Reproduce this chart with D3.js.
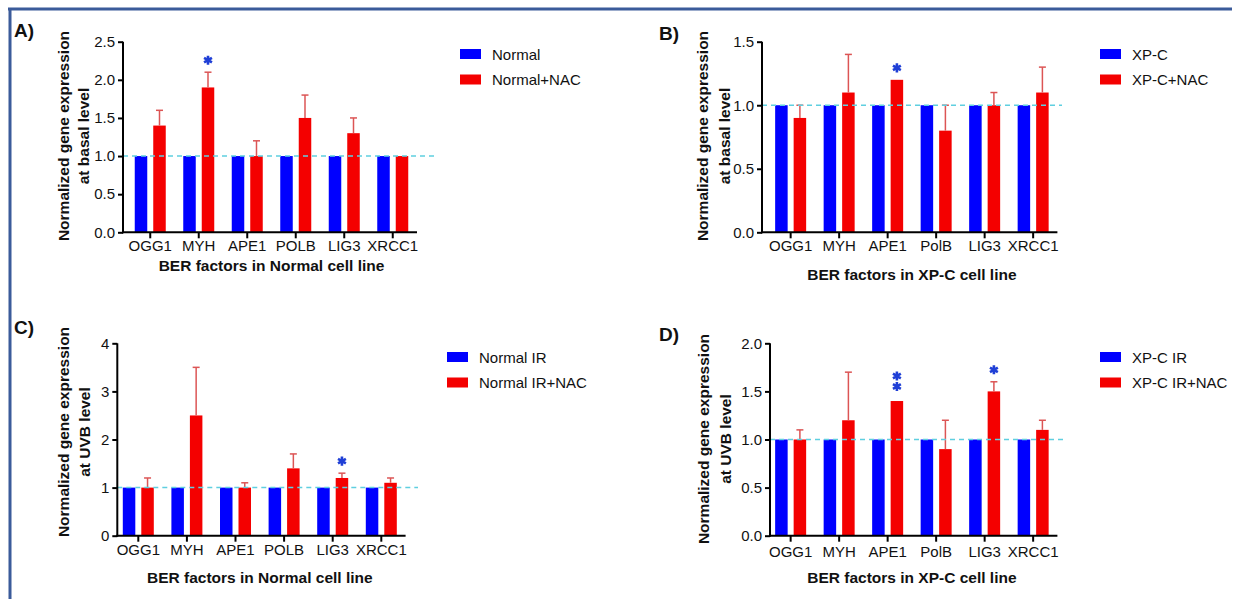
<!DOCTYPE html>
<html>
<head>
<meta charset="utf-8">
<script src="https://cdn.jsdelivr.net/npm/d3@7"></script>
<style>
  html, body { margin: 0; padding: 0; background: #fff; }
  svg { display: block; font-family: "Liberation Sans", Arial, sans-serif; }
</style>
</head>
<body>
<svg id="fig" width="1234" height="599"></svg>
<script>
// gene names on the x axes
const genesNormal = ["OGG1", "MYH", "APE1", "POLB", "LIG3", "XRCC1"];
const genesXPC    = ["OGG1", "MYH", "APE1", "PolB", "LIG3", "XRCC1"];

// A) basal level, Normal cell line
const normalBasal       = [1, 1, 1, 1, 1, 1];
const normalNacBasal    = [1.4, 1.9, 1.0, 1.5, 1.3, 1.0];
const normalNacBasalErr = [0.2, 0.2, 0.2, 0.3, 0.2, 0];
const starsA            = [0, 1, 0, 0, 0, 0];

// B) basal level, XP-C cell line
const xpcBasal       = [1, 1, 1, 1, 1, 1];
const xpcNacBasal    = [0.9, 1.1, 1.2, 0.8, 1.0, 1.1];
const xpcNacBasalErr = [0.1, 0.3, 0, 0.2, 0.1, 0.2];
const starsB         = [0, 0, 1, 0, 0, 0];

// C) UVB level, Normal cell line
const normalIR       = [1, 1, 1, 1, 1, 1];
const normalIRNac    = [1.0, 2.5, 1.0, 1.4, 1.2, 1.1];
const normalIRNacErr = [0.2, 1.0, 0.1, 0.3, 0.1, 0.1];
const starsC         = [0, 0, 0, 0, 1, 0];

// D) UVB level, XP-C cell line
const xpcIR       = [1, 1, 1, 1, 1, 1];
const xpcIRNac    = [1.0, 1.2, 1.4, 0.9, 1.5, 1.1];
const xpcIRNacErr = [0.1, 0.5, 0, 0.3, 0.1, 0.1];
const starsD      = [0, 0, 2, 0, 1, 0];

const ticksA = [0, 0.5, 1, 1.5, 2, 2.5];
const ticksB = [0, 0.5, 1, 1.5];
const ticksC = [0, 1, 2, 3, 4];
const ticksD = [0, 0.5, 1, 1.5, 2];

const BLUE = "#0000ff", RED = "#f40000", ERR = "#dc5555", DASH = "#5fcfe0", STAR = "#1f3fd6";

const svg = d3.select("#fig");

// cadre
svg.append("line").attr("x1", 8).attr("x2", 1232).attr("y1", 9).attr("y2", 9)
   .attr("stroke", "#3b5b9a").attr("stroke-width", 3);
svg.append("line").attr("x1", 10).attr("x2", 10).attr("y1", 8).attr("y2", 599)
   .attr("stroke", "#3b5b9a").attr("stroke-width", 3);

const panels = [
  { tag: "A)", tagX: 14, tagY: 37, axisX: 123, band: [126, 417], y0: 232.3, y1: 41.7, max: 2.5,
    ticks: ticksA, fmt: ".1f", genes: genesNormal, ctrl: normalBasal, nac: normalNacBasal,
    err: normalNacBasalErr, stars: starsA, dashEnd: 435, labOff: 19, titleOff: 39,
    xTitle: "BER factors in Normal cell line", yLines: ["Normalized gene expression", "at basal level"],
    yTx: [69, 89], yMid: 136, legX: 460, legY: 49, legend: ["Normal", "Normal+NAC"] },
  { tag: "B)", tagX: 659, tagY: 40, axisX: 762, band: [766.4, 1057.4], y0: 232.3, y1: 41.7, max: 1.5,
    ticks: ticksB, fmt: ".1f", genes: genesXPC, ctrl: xpcBasal, nac: xpcNacBasal,
    err: xpcNacBasalErr, stars: starsB, dashEnd: 1062, labOff: 19, titleOff: 48,
    xTitle: "BER factors in XP-C cell line", yLines: ["Normalized gene expression", "at basal level"],
    yTx: [708, 730], yMid: 136, legX: 1100, legY: 49, legend: ["XP-C", "XP-C+NAC"] },
  { tag: "C)", tagX: 14, tagY: 334, axisX: 117.3, band: [114, 405.6], y0: 535.7, y1: 343.3, max: 4,
    ticks: ticksC, fmt: "d", genes: genesNormal, ctrl: normalIR, nac: normalIRNac,
    err: normalIRNacErr, stars: starsC, dashEnd: 418, labOff: 19.5, titleOff: 47.5,
    xTitle: "BER factors in Normal cell line", yLines: ["Normalized gene expression", "at UVB level"],
    yTx: [69, 90], yMid: 432, legX: 447, legY: 352, legend: ["Normal IR", "Normal IR+NAC"] },
  { tag: "D)", tagX: 659, tagY: 341, axisX: 770, band: [766.4, 1057.4], y0: 535.7, y1: 343.3, max: 2,
    ticks: ticksD, fmt: ".1f", genes: genesXPC, ctrl: xpcIR, nac: xpcIRNac,
    err: xpcIRNacErr, stars: starsD, dashEnd: 1064, labOff: 22, titleOff: 47.5,
    xTitle: "BER factors in XP-C cell line", yLines: ["Normalized gene expression", "at UVB level"],
    yTx: [709, 731], yMid: 439, legX: 1100, legY: 352, legend: ["XP-C IR", "XP-C IR+NAC"] }
];

const starPath = d3.symbol(d3.symbolAsterisk, 58)();

panels.forEach(drawPanel);

function drawPanel(p) {
  const g = svg.append("g");
  const x = d3.scaleBand().domain(p.genes).range(p.band);
  const sub = d3.scaleBand().domain([0, 1]).range([-15.5, 15.5]).paddingInner(0.324);
  const y = d3.scaleLinear().domain([0, p.max]).range([p.y0, p.y1]);

  const rows = p.genes.map((gene, i) => ({ gene, ctrl: p.ctrl[i], nac: p.nac[i], err: p.err[i], stars: p.stars[i] }));

  // barres
  const grp = g.append("g").selectAll("g").data(rows).join("g")
     .attr("transform", d => `translate(${x(d.gene) + x.bandwidth() / 2},0)`);
  grp.append("rect").attr("x", sub(0)).attr("width", sub.bandwidth())
     .attr("y", d => y(d.ctrl)).attr("height", d => y(0) - y(d.ctrl)).attr("fill", BLUE);
  grp.append("rect").attr("x", sub(1)).attr("width", sub.bandwidth())
     .attr("y", d => y(d.nac)).attr("height", d => y(0) - y(d.nac)).attr("fill", RED);

  // barres d'erreur (vers le haut seulement)
  const cx = sub(1) + sub.bandwidth() / 2;
  const eb = grp.filter(d => d.err > 0);
  eb.append("line").attr("x1", cx).attr("x2", cx)
    .attr("y1", d => y(d.nac)).attr("y2", d => y(d.nac + d.err))
    .attr("stroke", ERR).attr("stroke-width", 1.5);
  eb.append("line").attr("x1", cx - 3.5).attr("x2", cx + 3.5)
    .attr("y1", d => y(d.nac + d.err)).attr("y2", d => y(d.nac + d.err))
    .attr("stroke", ERR).attr("stroke-width", 1.5);

  // étoiles de significativité
  grp.filter(d => d.stars > 0).each(function(d) {
    const base = y(d.nac + d.err) - 12 - (d.stars > 1 ? 2.5 : 0);
    d3.select(this).selectAll("path.star").data(d3.range(d.stars)).join("path")
      .attr("class", "star").attr("d", starPath)
      .attr("transform", k => `translate(${cx},${base - 10.5 * k})`)
      .attr("fill", "none").attr("stroke", STAR).attr("stroke-width", 2.6);
  });

  // ligne pointillée à 1
  g.append("line").attr("x1", p.axisX).attr("x2", p.dashEnd).attr("y1", y(1)).attr("y2", y(1))
   .attr("stroke", DASH).attr("stroke-width", 1.5).attr("stroke-dasharray", "5,4");

  // axe Y
  const ya = g.append("g").attr("transform", `translate(${p.axisX},0)`)
     .call(d3.axisLeft(y).tickValues(p.ticks).tickFormat(d3.format(p.fmt)).tickSize(5).tickPadding(3));
  ya.select(".domain").attr("d", `M0,${p.y0 + 1}V${p.y1}`);

  // axe X
  const xa = g.append("g").attr("transform", `translate(0,${p.y0})`)
     .call(d3.axisBottom(x).tickSize(6).tickPadding(p.labOff - 6 - 11));
  xa.select(".domain").attr("d", `M${p.axisX - 1},0H${p.band[1]}`);

  [ya, xa].forEach(a => {
    a.selectAll("path, line").attr("stroke", "#000").attr("stroke-width", 2);
    a.selectAll("text").attr("font-size", 15).attr("fill", "#111")
      .attr("font-family", "Liberation Sans, Arial, sans-serif");
  });

  // titres
  g.append("text").attr("x", (p.band[0] + p.band[1]) / 2).attr("y", p.y0 + p.titleOff)
   .attr("text-anchor", "middle").attr("font-size", 15.5).attr("font-weight", "bold")
   .attr("fill", "#111").text(p.xTitle);
  p.yLines.forEach((t, i) => {
    g.append("text").attr("transform", `translate(${p.yTx[i]},${p.yMid}) rotate(-90)`)
     .attr("text-anchor", "middle").attr("font-size", 15.5).attr("font-weight", "bold")
     .attr("fill", "#111").text(t);
  });

  g.append("text").attr("x", p.tagX).attr("y", p.tagY).attr("font-size", 19)
   .attr("font-weight", "bold").attr("fill", "#111").text(p.tag);

  // légende
  const lg = g.append("g").selectAll("g").data(p.legend).join("g")
     .attr("transform", (d, i) => `translate(${p.legX},${p.legY + i * 25.5})`);
  lg.append("rect").attr("width", 21).attr("height", 10).attr("fill", (d, i) => i ? RED : BLUE);
  lg.append("text").attr("x", 32).attr("y", 10.5).attr("font-size", 15).attr("fill", "#111").text(d => d);
}
</script>
</body>
</html>
